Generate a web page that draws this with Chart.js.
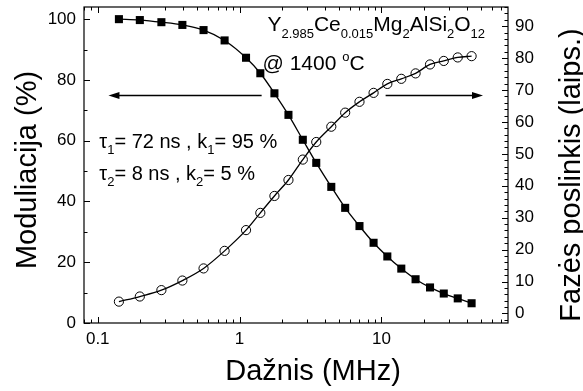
<!DOCTYPE html>
<html>
<head>
<meta charset="utf-8">
<script src="https://cdn.jsdelivr.net/npm/chart.js@4.4.1/dist/chart.umd.min.js"></script>
<style>
  html, body { margin: 0; padding: 0; background: #fff; }
  #wrap { width: 583px; height: 391px; }
</style>
</head>
<body>
<div id="wrap"><canvas id="chart" width="583" height="391"></canvas></div>
<script>
// Frequency (MHz) and measured values
const freq = [0.141, 0.198, 0.281, 0.395, 0.557, 0.784, 1.11, 1.40, 1.76, 2.21, 2.79, 3.47,
              4.43, 5.55, 7.0, 8.8, 11.0, 13.8, 17.4, 22.0, 27.5, 34.5, 43.2];
const modulation = [100, 99.7, 99.0, 98.1, 96.4, 93.0, 87.3, 82.2, 75.6, 68.5, 60.3, 52.7,
                    44.8, 37.9, 31.9, 26.4, 21.9, 17.9, 14.4, 11.7, 9.7, 8.1, 6.5];
const phase = [3.7, 5.3, 7.3, 10.3, 14.1, 19.6, 26.1, 31.5, 36.8, 41.8, 48.2, 53.7,
               58.5, 62.9, 66.3, 69.1, 71.9, 73.5, 75.2, 78.0, 79.1, 80.2, 80.6];

const xTicks = [0.1, 1, 10];
const yLeftTicks = [0, 20, 40, 60, 80, 100];
const yRightTicks = [0, 10, 20, 30, 40, 50, 60, 70, 80, 90];

const FONT = '"Liberation Sans", Arial, sans-serif';

function font(size) { return size + 'px ' + FONT; }

// draws a run of [text, size, dy] pieces starting at x, baseline y
function drawRich(ctx, parts, x, y) {
    ctx.textAlign = 'left';
    ctx.textBaseline = 'alphabetic';
    parts.forEach(p => {
        ctx.font = font(p[1]);
        ctx.fillText(p[0], x, y + (p[2] || 0));
        x += ctx.measureText(p[0]).width;
    });
}

function arrow(ctx, x1, y, x2) {
    const dir = x2 > x1 ? 1 : -1;
    ctx.beginPath();
    ctx.moveTo(x1, y);
    ctx.lineTo(x2 - dir * 8, y);
    ctx.lineWidth = 1.5;
    ctx.stroke();
    ctx.beginPath();
    ctx.moveTo(x2, y);
    ctx.lineTo(x2 - dir * 11, y - 3.5);
    ctx.lineTo(x2 - dir * 11, y + 3.5);
    ctx.closePath();
    ctx.fill();
}

const framePlugin = {
    id: 'frame',
    beforeDraw(chart) {
        const ctx = chart.ctx;
        ctx.save();
        ctx.fillStyle = '#fff';
        ctx.fillRect(0, 0, chart.width, chart.height);
        ctx.restore();
    },
    afterDraw(chart) {
        const ctx = chart.ctx;
        const a = chart.chartArea;
        const sx = chart.scales.x, yl = chart.scales.y, yr = chart.scales.y2;
        ctx.save();
        ctx.strokeStyle = '#000';
        ctx.fillStyle = '#000';
        ctx.lineWidth = 1.2;
        ctx.strokeRect(a.left, a.top, a.right - a.left, a.bottom - a.top);

        // x ticks (log), bottom and top, pointing inward
        ctx.lineWidth = 1;
        for (let dec = 0.01; dec < 1000; dec *= 10) {
            for (let m = 1; m < 10; m++) {
                const v = dec * m;
                if (v < sx.min || v > sx.max) continue;
                const px = Math.round(sx.getPixelForValue(v)) + 0.5;
                const len = m === 1 ? 6 : 3.5;
                ctx.beginPath();
                ctx.moveTo(px, a.bottom); ctx.lineTo(px, a.bottom - len);
                ctx.moveTo(px, a.top); ctx.lineTo(px, a.top + len);
                ctx.stroke();
            }
        }
        // left y ticks
        for (let v = 0; v <= yl.max; v += 10) {
            const py = Math.round(yl.getPixelForValue(v)) + 0.5;
            const len = v % 20 === 0 ? 6 : 3.5;
            ctx.beginPath();
            ctx.moveTo(a.left, py); ctx.lineTo(a.left + len, py);
            ctx.stroke();
        }
        // right y ticks
        for (let v = -2; v <= yr.max; v += 2) {
            const py = Math.round(yr.getPixelForValue(v)) + 0.5;
            const len = v % 10 === 0 ? 6 : 3.5;
            ctx.beginPath();
            ctx.moveTo(a.right, py); ctx.lineTo(a.right - len, py);
            ctx.stroke();
        }

        // tick labels
        ctx.font = font(17);
        ctx.textBaseline = 'middle';
        ctx.textAlign = 'center';
        xTicks.forEach(v => ctx.fillText(String(v), sx.getPixelForValue(v), a.bottom + 16));
        ctx.textAlign = 'right';
        yLeftTicks.forEach(v => ctx.fillText(String(v), a.left - 8, yl.getPixelForValue(v)));
        ctx.textAlign = 'left';
        yRightTicks.forEach(v => ctx.fillText(String(v), a.right + 7, yr.getPixelForValue(v)));

        // axis titles
        ctx.font = font(29);
        ctx.textAlign = 'center';
        ctx.textBaseline = 'alphabetic';
        ctx.fillText('Dažnis (MHz)', 313, 380);
        ctx.save();
        ctx.translate(36, 170);
        ctx.rotate(-Math.PI / 2);
        ctx.fillText('Moduliacija (%)', 0, 0);
        ctx.restore();
        ctx.save();
        ctx.translate(580, 175);
        ctx.rotate(-Math.PI / 2);
        ctx.fillText('Fazės poslinkis (laips.)', 0, 0);
        ctx.restore();

        // annotations
        const X = v => sx.getPixelForValue(v);
        const Y = v => yl.getPixelForValue(v);
        drawRich(ctx, [['Y', 21], ['2.985', 13, 7], ['Ce', 21], ['0.015', 13, 7], ['Mg', 21], ['2', 13, 7],
                       ['AlSi', 21], ['2', 13, 7], ['O', 21], ['12', 13, 7]], X(1.57), Y(96.2));
        drawRich(ctx, [['@ 1400 ', 21], ['o', 13, -9], ['C', 21]], X(1.45), Y(83.3));
        drawRich(ctx, [['\u03c4', 20], ['1', 13, 6], ['= 72 ns , k', 20], ['1', 13, 6], ['= 95 %', 20]], X(0.1025), Y(57.7));
        drawRich(ctx, [['\u03c4', 20], ['2', 13, 6], ['= 8 ns , k', 20], ['2', 13, 6], ['= 5 %', 20]], X(0.1025), Y(47.1));
        arrow(ctx, X(1.43), Math.round(Y(75)) + 0.5, X(0.119));
        arrow(ctx, X(10.7), Math.round(Y(75)) + 0.5, X(52));
        ctx.restore();
    }
};

document.addEventListener('DOMContentLoaded', function() {
    const ctx = document.getElementById('chart').getContext('2d');
    new Chart(ctx, {
        type: 'line',
        data: {
            datasets: [{
                label: 'Moduliacija',
                data: freq.map((f, i) => ({ x: f, y: modulation[i] })),
                yAxisID: 'y',
                borderColor: '#000',
                borderWidth: 1.3,
                backgroundColor: '#000',
                pointStyle: 'rect',
                pointRadius: 5.7,
                pointBorderWidth: 0,
                cubicInterpolationMode: 'monotone',
                fill: false
            }, {
                label: 'Fazės poslinkis',
                data: freq.map((f, i) => ({ x: f, y: phase[i] })),
                yAxisID: 'y2',
                borderColor: '#000',
                borderWidth: 1.3,
                backgroundColor: 'rgba(0,0,0,0)',
                pointStyle: 'circle',
                pointRadius: 4.6,
                pointBorderWidth: 1,
                cubicInterpolationMode: 'monotone',
                fill: false
            }]
        },
        options: {
            responsive: false,
            animation: false,
            devicePixelRatio: 1,
            layout: { padding: { left: 84, right: 75, top: 7, bottom: 68 } },
            plugins: { legend: { display: false }, tooltip: { enabled: false } },
            scales: {
                x: { type: 'logarithmic', min: 0.08, max: 78, display: false },
                y: { type: 'linear', min: 0, max: 104, display: false },
                y2: { type: 'linear', position: 'right', min: -3, max: 96, display: false }
            }
        },
        plugins: [framePlugin]
    });
});
</script>
</body>
</html>
